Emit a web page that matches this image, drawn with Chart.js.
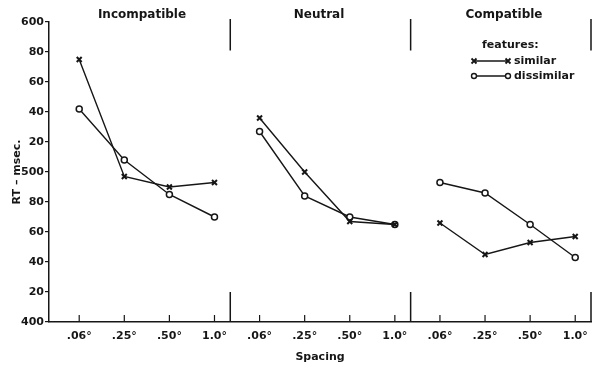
<!DOCTYPE html>
<html>
<head>
<meta charset="utf-8">
<script src="https://cdn.jsdelivr.net/npm/chart.js@4.4.1/dist/chart.umd.min.js"></script>
<style>
  html, body { margin: 0; padding: 0; background: #fff; }
  #wrap { width: 599px; height: 368px; }
</style>
</head>
<body>
<div id="wrap"><canvas id="rtChart"></canvas></div>
<script>
// data
const conditions = ['Incompatible', 'Neutral', 'Compatible'];
const spacingLabels = ['.06°', '.25°', '.50°', '1.0°'];
const similarRT = [575, 497, 490, 493, 536, 500, 467, 465, 466, 445, 453, 457];
const dissimilarRT = [542, 508, 485, 470, 527, 484, 470, 465, 493, 486, 465, 443];
const yTicks = [400, 420, 440, 460, 480, 500, 520, 540, 560, 580, 600];

const INK = '#161616';
const FONT = 'DejaVu Sans';

// one line per panel, broken between panels
function toPoints(values) {
    const pts = [];
    values.forEach((v, i) => {
        if (i > 0 && i % 4 === 0) pts.push({ x: i - 0.5, y: null });
        pts.push({ x: i, y: v });
    });
    return pts;
}

function legendMark(ctx, kind, x, y) {
    ctx.beginPath();
    if (kind === 'x') {
        ctx.lineWidth = 1.8;
        ctx.moveTo(x - 2.5, y - 2.5); ctx.lineTo(x + 2.5, y + 2.5);
        ctx.moveTo(x - 2.5, y + 2.5); ctx.lineTo(x + 2.5, y - 2.5);
        ctx.stroke();
    } else {
        ctx.lineWidth = 1.4;
        ctx.arc(x, y, 2.5, 0, Math.PI * 2);
        ctx.fillStyle = '#fff';
        ctx.fill();
        ctx.stroke();
        ctx.fillStyle = INK;
    }
}

const panelPlugin = {
    id: 'panels',
    afterDraw(chart) {
        const ctx = chart.ctx;
        const xs = chart.scales.x, ys = chart.scales.y;
        ctx.save();
        ctx.strokeStyle = INK;
        ctx.fillStyle = INK;

        // inward ticks on the x axis
        ctx.lineWidth = 1.2;
        for (let i = 0; i < 12; i++) {
            const px = xs.getPixelForValue(i);
            ctx.beginPath();
            ctx.moveTo(px, ys.bottom);
            ctx.lineTo(px, ys.bottom - 7);
            ctx.stroke();
        }

        // panel dividers, top and bottom stubs
        ctx.lineWidth = 1.5;
        [3.35, 7.35, 11.35].forEach(d => {
            const px = xs.getPixelForValue(d);
            ctx.beginPath();
            ctx.moveTo(px, ys.getPixelForValue(602));
            ctx.lineTo(px, ys.getPixelForValue(581));
            ctx.moveTo(px, ys.getPixelForValue(420));
            ctx.lineTo(px, ys.getPixelForValue(400));
            ctx.stroke();
        });

        // panel titles
        ctx.font = 'bold 12px "' + FONT + '"';
        ctx.textAlign = 'center';
        ctx.textBaseline = 'middle';
        const titleX = [142, 319, 504];
        conditions.forEach((c, p) => {
            ctx.fillText(c, titleX[p], 15);
        });

        // legend
        ctx.textAlign = 'left';
        ctx.font = 'bold 11px "' + FONT + '"';
        ctx.fillText('features:', 482, 45);
        const rows = [
            { y: 61, label: 'similar', kind: 'x' },
            { y: 76, label: 'dissimilar', kind: 'o' }
        ];
        rows.forEach(r => {
            ctx.lineWidth = 1.3;
            ctx.beginPath();
            ctx.moveTo(474, r.y);
            ctx.lineTo(508, r.y);
            ctx.stroke();
            legendMark(ctx, r.kind, 474, r.y);
            legendMark(ctx, r.kind, 508, r.y);
            ctx.fillText(r.label, 514, r.y);
        });
        ctx.restore();
    }
};

new Chart(document.getElementById('rtChart'), {
    type: 'line',
    data: {
        datasets: [
            {
                label: 'similar',
                data: toPoints(similarRT),
                borderColor: INK,
                borderWidth: 1.4,
                pointStyle: 'crossRot',
                pointRadius: 3.5,
                pointBorderWidth: 2,
                pointBorderColor: INK,
                spanGaps: false
            },
            {
                label: 'dissimilar',
                data: toPoints(dissimilarRT),
                borderColor: INK,
                borderWidth: 1.4,
                pointStyle: 'circle',
                pointRadius: 3,
                pointBorderWidth: 1.5,
                pointBorderColor: INK,
                pointBackgroundColor: '#fff',
                spanGaps: false
            }
        ]
    },
    options: {
        responsive: true,
        maintainAspectRatio: false,
        animation: false,
        layout: { padding: { top: 22, right: 8, left: 0, bottom: 0 } },
        plugins: {
            legend: { display: false },
            tooltip: { enabled: false }
        },
        scales: {
            x: {
                type: 'linear',
                min: -0.67,
                max: 11.35,
                afterFit(scale) { scale.height = 46; },
                afterBuildTicks(scale) {
                    scale.ticks = Array.from({ length: 12 }, (_, i) => ({ value: i }));
                },
                ticks: {
                    autoSkip: false,
                    maxRotation: 0,
                    padding: 0,
                    color: INK,
                    font: { family: FONT, size: 11, weight: 'bold' },
                    callback: v => spacingLabels[v % 4]
                },
                grid: { display: false },
                border: { display: true, color: INK, width: 1.5 },
                title: {
                    display: true,
                    text: 'Spacing',
                    color: INK,
                    padding: { top: 21 },
                    font: { family: FONT, size: 11, weight: 'bold' }
                }
            },
            y: {
                min: 400,
                max: 600,
                afterFit(scale) { scale.width = 49; },
                afterBuildTicks(scale) {
                    scale.ticks = yTicks.map(v => ({ value: v }));
                },
                ticks: {
                    padding: 1,
                    color: INK,
                    font: { family: FONT, size: 11, weight: 'bold' },
                    callback: v => (v % 100 === 0 ? String(v) : String(v % 100))
                },
                grid: {
                    display: true,
                    drawOnChartArea: false,
                    drawTicks: true,
                    tickLength: 4,
                    color: INK,
                    lineWidth: 1.2
                },
                border: { display: true, color: INK, width: 1.5 },
                title: {
                    display: true,
                    text: 'RT – msec.',
                    color: INK,
                    padding: { top: 11, bottom: 0 },
                    font: { family: FONT, size: 11, weight: 'bold' }
                }
            }
        }
    },
    plugins: [panelPlugin]
});
</script>
</body>
</html>
